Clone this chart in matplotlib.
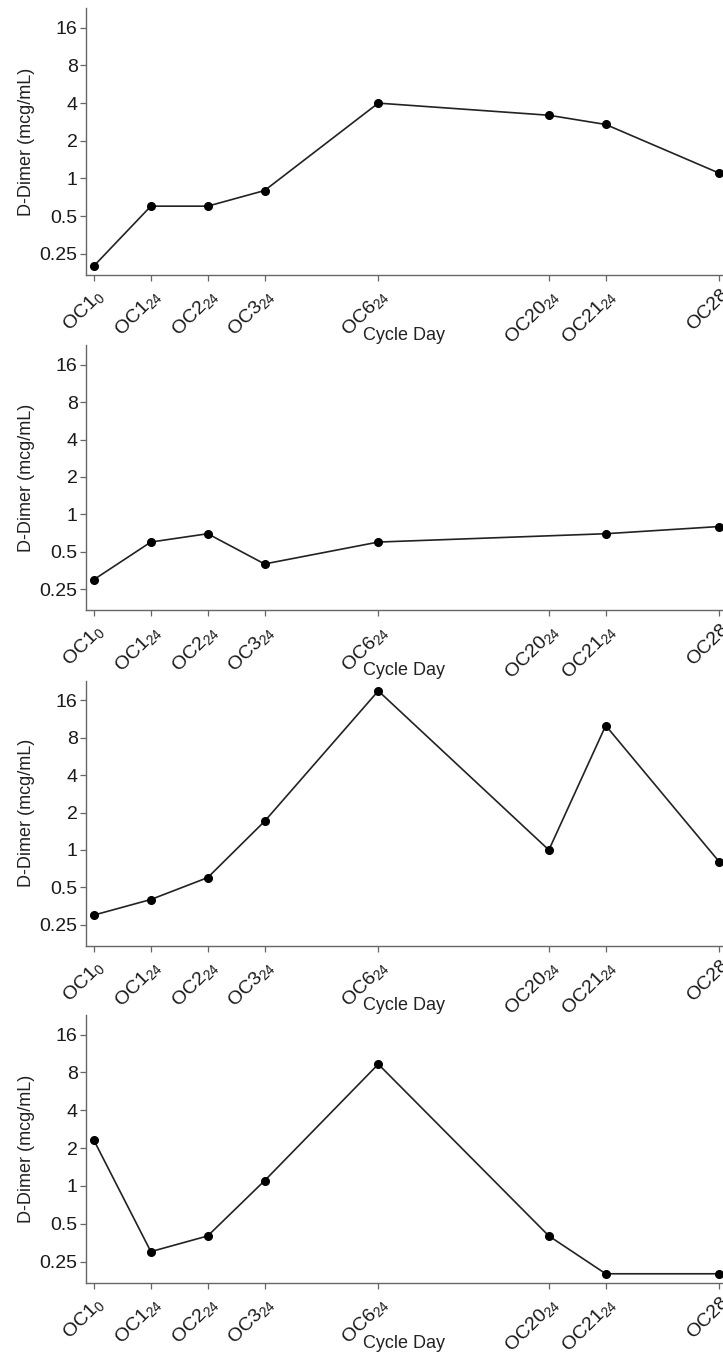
import numpy as np
import matplotlib
matplotlib.use("Agg")
import matplotlib.pyplot as plt

plt.rcParams['font.family'] = ['Liberation Sans', 'DejaVu Sans']
plt.rcParams['mathtext.default'] = 'regular'

# Dias del ciclo (posicion en el eje) y sus etiquetas
dias = [0, 1, 2, 3, 5, 8, 9, 11]
etiquetas = ['OC1$_{0}$', 'OC1$_{24}$', 'OC2$_{24}$', 'OC3$_{24}$',
             'OC6$_{24}$', 'OC20$_{24}$', 'OC21$_{24}$', 'OC28']

# D-Dimer (mcg/mL) de cada paciente
paciente1 = [0.2, 0.6, 0.6, 0.8, 4.0, 3.2, 2.7, 1.1]
paciente2 = [0.3, 0.6, 0.7, 0.4, 0.6, np.nan, 0.7, 0.8]
paciente3 = [0.3, 0.4, 0.6, 1.7, 19.0, 1.0, 10.0, 0.8]
paciente4 = [2.3, 0.3, 0.4, 1.1, 9.3, 0.4, 0.2, 0.2]

yticks = [0.25, 0.5, 1, 2, 4, 8, 16]
yticklabels = ['0.25', '0.5', '1', '2', '4', '8', '16']

fig = plt.figure(figsize=(7.23, 13.53), dpi=100)

# [izq, abajo, ancho, alto] en fraccion de la figura
cajas = [
    [0.119, 0.797, 0.880, 0.197],
    [0.119, 0.549, 0.880, 0.196],
    [0.119, 0.301, 0.880, 0.196],
    [0.119, 0.052, 0.880, 0.198],
]

gris = '#666666'
for caja, datos in zip(cajas, [paciente1, paciente2, paciente3, paciente4]):
    ax = fig.add_axes(caja)
    x = np.array(dias, dtype=float)
    y = np.array(datos, dtype=float)
    ok = ~np.isnan(y)
    ax.plot(x[ok], y[ok], color='#222222', lw=1.2, marker='o',
            ms=5.5, mfc='black', mec='black', zorder=3, clip_on=False)
    ax.set_yscale('log', base=2)
    ax.set_ylim(0.17, 23)
    ax.set_xlim(-0.14, 11.05)
    ax.set_yticks(yticks)
    ax.set_yticklabels(yticklabels)
    ax.yaxis.set_minor_locator(matplotlib.ticker.NullLocator())
    ax.set_xticks(dias)
    ax.set_xticklabels(etiquetas, rotation=45, ha='right',
                       rotation_mode='anchor')
    for s in ['top', 'right']:
        ax.spines[s].set_visible(False)
    for s in ['left', 'bottom']:
        ax.spines[s].set_color(gris)
        ax.spines[s].set_linewidth(1.0)
    ax.tick_params(axis='both', colors=gris, labelcolor='#1a1a1a',
                   length=4, width=0.9, labelsize=14, pad=2)
    ax.tick_params(axis='x', pad=4)
    ax.set_ylabel('D-Dimer (mcg/mL)', fontsize=13, color='#222222')
    ax.yaxis.set_label_coords(-0.08, 0.5)
    ax.set_xlabel('Cycle Day', fontsize=13, color='#222222')
    ax.xaxis.set_label_coords(0.5, -0.195)

fig.savefig('out.png', dpi=100)
